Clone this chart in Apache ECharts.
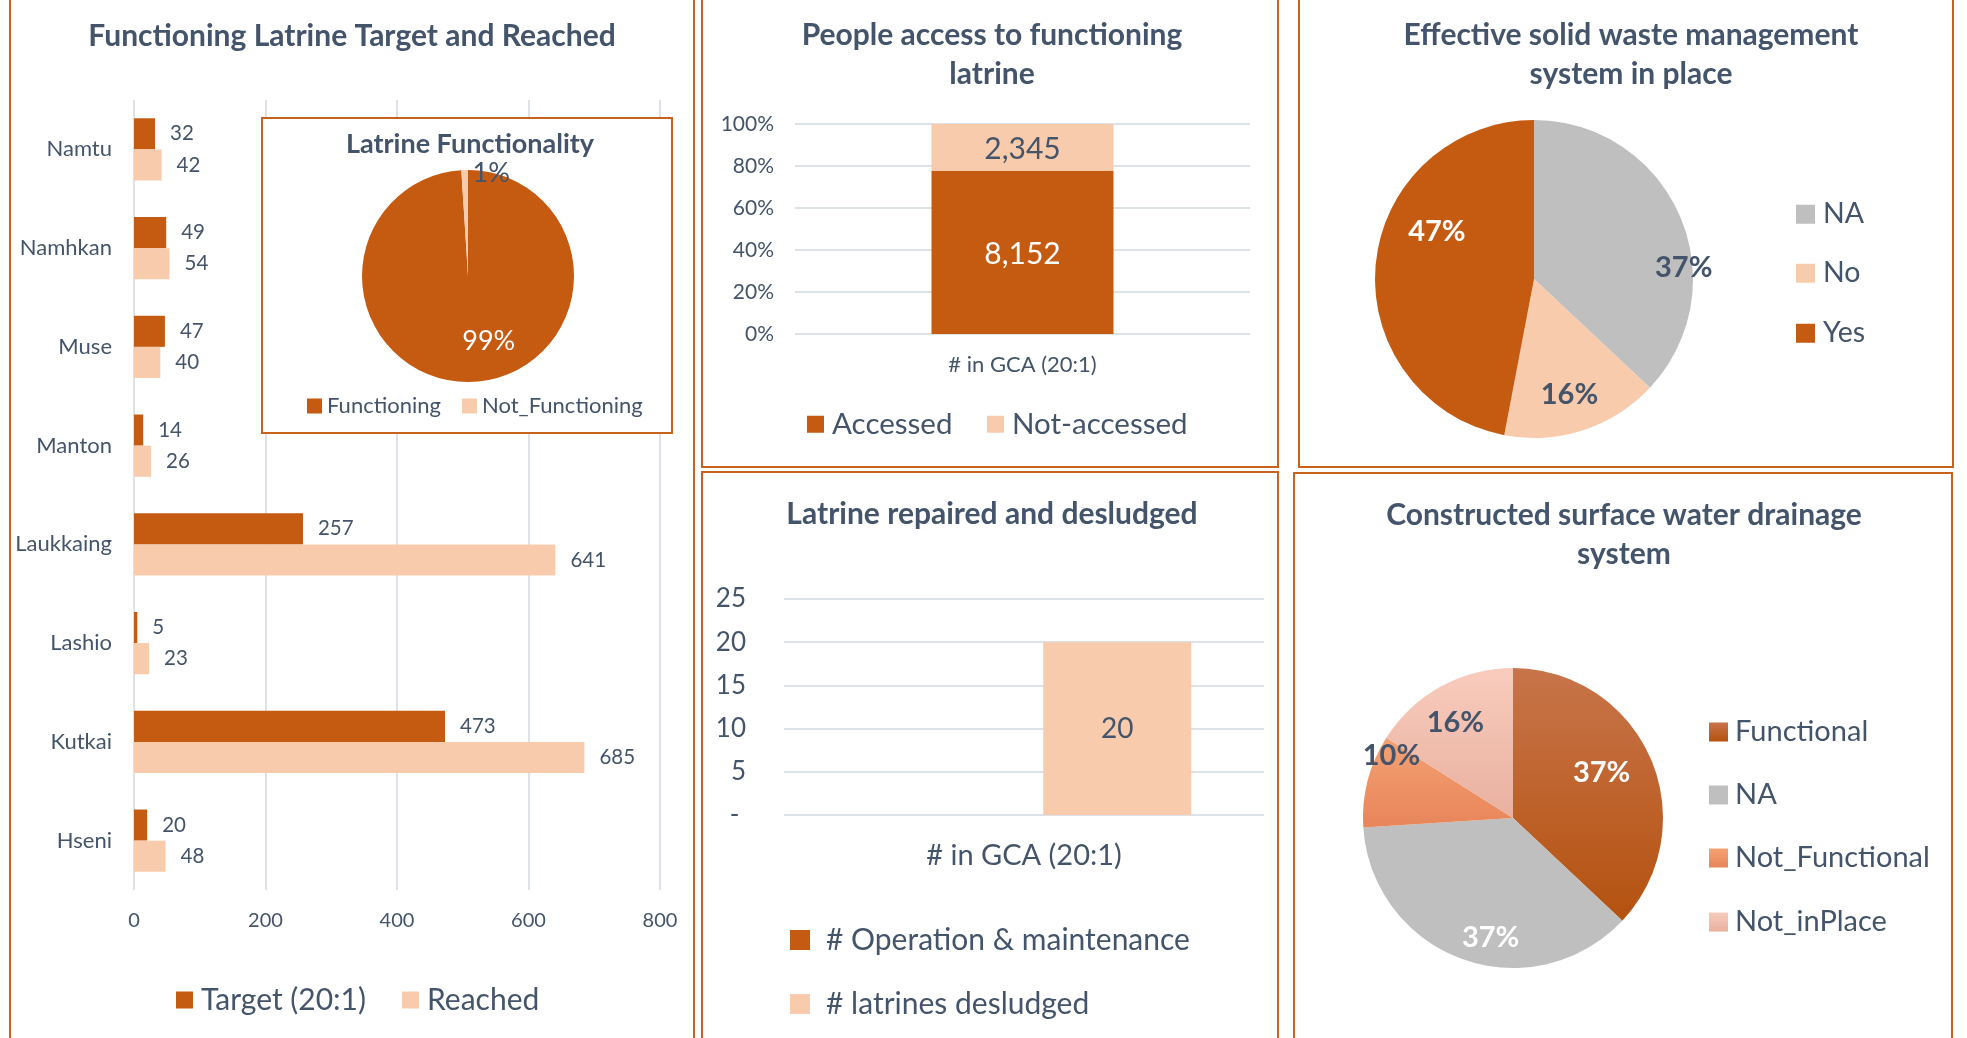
<!DOCTYPE html>
<html>
<head>
<meta charset="utf-8">
<title>Latrine dashboard</title>
<script src="https://cdn.jsdelivr.net/npm/echarts@6.0.0/dist/echarts.min.js"></script>
<style>
  html, body { margin: 0; padding: 0; background: #fff; }
  #chart { width: 1967px; height: 1038px; }
</style>
</head>
<body>
<div id="chart"></div>
<script>
// ---- data ----
var townships = ['Namtu', 'Namhkan', 'Muse', 'Manton', 'Laukkaing', 'Lashio', 'Kutkai', 'Hseni'];
var target = [32, 49, 47, 14, 257, 5, 473, 20];
var reached = [42, 54, 40, 26, 641, 23, 685, 48];
var reachTicks = [0, 200, 400, 600, 800];

var funcNames = ['Functioning', 'Not_Functioning'];
var funcValues = [99, 1];

var gcaCats = ['# in GCA (20:1)'];
var accessed = [8152];
var notAccessed = [2345];
var shareTicks = [0, 20, 40, 60, 80, 100];

var operation = [null];
var desludged = [20];
var repairTicks = [0, 5, 10, 15, 20, 25];

var wasteNames = ['NA', 'No', 'Yes'];
var wasteValues = [37, 16, 47];

var drainNames = ['Functional', 'NA', 'Not_Functional', 'Not_inPlace'];
var drainValues = [37, 37, 10, 16];

// ---- styles ----
var TEXT = '#44546A';
var ORANGE = '#C55A11';
var PEACH = '#F8CBAD';
var GREY = '#BFBFBF';
var GRIDLINE = '#DDE2E8';
var BORDER = '#C8631C';
var FONT = 'Lato, sans-serif';

function grad(top, bottom) {
  return new echarts.graphic.LinearGradient(0, 0, 0, 1, [
    { offset: 0, color: top }, { offset: 1, color: bottom }
  ]);
}
var drainColors = [grad('#C8744A', '#B4520F'), GREY, grad('#F4A274', '#E8855A'), grad('#F8CCBD', '#E9B09F')];

function legendItem(name, left, cy, size, fontSize, gap) {
  return {
    data: [name], left: left, top: cy - fontSize / 2, padding: 0,
    icon: 'rect', itemWidth: size, itemHeight: size, selectedMode: false,
    textStyle: { color: TEXT, fontSize: fontSize, fontFamily: FONT, padding: [0, 0, 0, gap || 0] }
  };
}

function panel(x, y, w, h, z) {
  return { type: 'rect', z: z || 0, shape: { x: x, y: y, width: w, height: h },
    style: { fill: z ? '#fff' : 'none', stroke: BORDER, lineWidth: 2 } };
}

function title(text, x, y, size) {
  return { type: 'text', x: x, y: y, z: 10,
    style: { text: text, fill: TEXT, font: 'bold ' + size + 'px ' + FONT,
      textAlign: 'center', textVerticalAlign: 'middle', lineHeight: 39 } };
}

function pct(a, b) { return a.map(function (v, i) { return v / (v + b[i]) * 100; }); }
var accessedPct = pct(accessed, notAccessed);
var notAccessedPct = pct(notAccessed, accessed);

function pieData(names, values, colors, labelColors) {
  return names.map(function (n, i) {
    return { name: n, value: values[i], itemStyle: { color: colors[i] },
      label: { color: labelColors[i] } };
  });
}

function offsets(list) {
  return function (p) { var o = list[p.dataIndex]; return { dx: o[0], dy: o[1] }; };
}

var chart = echarts.init(document.getElementById('chart'));

var option = {
  animation: false,
  textStyle: { fontFamily: FONT },
  graphic: [
    panel(10, -10, 684, 1060),
    panel(702, -10, 576, 477),
    panel(702, 472, 576, 578),
    panel(1299, -10, 654, 477),
    panel(1294, 473, 658, 577),
    panel(262, 118, 410, 315, 1),
    title('Functioning Latrine Target and Reached', 352, 36, 30),
    title('Latrine Functionality', 470, 144, 27),
    title('People access to functioning\nlatrine', 992, 55, 30),
    title('Latrine repaired and desludged', 992, 514, 30),
    title('Effective solid waste management\nsystem in place', 1631, 55, 30),
    title('Constructed surface water drainage\nsystem', 1624, 535, 30)
  ],
  legend: [
    legendItem('Target (20:1)', 176, 1000, 17, 30, 3),
    legendItem('Reached', 402, 1000, 17, 30, 3),
    legendItem('Functioning', 307, 406, 15, 22, 0),
    legendItem('Not_Functioning', 462, 406, 15, 22, 0),
    legendItem('Accessed', 807, 424, 17, 29.5, 3),
    legendItem('Not-accessed', 987, 424, 17, 29.5, 3),
    legendItem('# Operation & maintenance', 790, 940, 20, 30, 11),
    legendItem('# latrines desludged', 790, 1004, 20, 30, 11),
    legendItem('NA', 1796, 214, 19, 28.5, 3),
    legendItem('No', 1796, 273, 19, 28.5, 3),
    legendItem('Yes', 1796, 333, 19, 28.5, 3),
    legendItem('Functional', 1709, 732, 19, 29, 2),
    legendItem('NA', 1709, 795, 19, 29, 2),
    legendItem('Not_Functional', 1709, 858, 19, 29, 2),
    legendItem('Not_inPlace', 1709, 922, 19, 29, 2)
  ],
  grid: [
    { left: 134, top: 100, width: 526, height: 790, outerBoundsMode: 'none' },
    { left: 795, top: 124, width: 455, height: 210, outerBoundsMode: 'none' },
    { left: 784, top: 599, width: 480, height: 216, outerBoundsMode: 'none' }
  ],
  xAxis: [
    { gridIndex: 0, type: 'value', min: reachTicks[0], max: reachTicks[reachTicks.length - 1],
      interval: reachTicks[1] - reachTicks[0],
      axisLine: { show: false }, axisTick: { show: false },
      splitLine: { show: true, lineStyle: { color: GRIDLINE, width: 2 } },
      axisLabel: { color: TEXT, fontSize: 20, margin: 21 } },
    { gridIndex: 1, type: 'category', data: gcaCats,
      axisLine: { show: false }, axisTick: { show: false },
      axisLabel: { color: TEXT, fontSize: 22, margin: 20 } },
    { gridIndex: 2, type: 'category', data: gcaCats,
      axisLine: { show: false }, axisTick: { show: false },
      axisLabel: { color: TEXT, fontSize: 29, margin: 26 } }
  ],
  yAxis: [
    { gridIndex: 0, type: 'category', data: townships, inverse: true,
      axisLine: { show: false }, axisTick: { show: false },
      axisLabel: { color: TEXT, fontSize: 22, margin: 22 } },
    { gridIndex: 1, type: 'value', min: shareTicks[0], max: shareTicks[shareTicks.length - 1],
      interval: shareTicks[1] - shareTicks[0],
      axisLine: { show: false }, axisTick: { show: false },
      splitLine: { lineStyle: { color: GRIDLINE, width: 2 } },
      axisLabel: { color: TEXT, fontSize: 21, margin: 21, formatter: '{value}%' } },
    { gridIndex: 2, type: 'value', min: repairTicks[0], max: repairTicks[repairTicks.length - 1],
      interval: repairTicks[1] - repairTicks[0],
      axisLine: { show: false }, axisTick: { show: false },
      splitLine: { lineStyle: { color: GRIDLINE, width: 2 } },
      axisLabel: { color: TEXT, fontSize: 26, margin: 38,
        formatter: function (v) { return v === 0 ? '-\u00a0' : v; } } }
  ],
  series: [
    { name: 'Target (20:1)', type: 'bar', xAxisIndex: 0, yAxisIndex: 0, data: target,
      itemStyle: { color: ORANGE }, barGap: '0%', barCategoryGap: '37%',
      label: { show: true, position: 'right', distance: 15, color: TEXT, fontSize: 20.5 } },
    { name: 'Reached', type: 'bar', xAxisIndex: 0, yAxisIndex: 0, data: reached,
      itemStyle: { color: PEACH }, barGap: '0%', barCategoryGap: '37%',
      label: { show: true, position: 'right', distance: 15, color: TEXT, fontSize: 20.5 } },

    { name: 'Accessed', type: 'bar', stack: 'gca', xAxisIndex: 1, yAxisIndex: 1,
      data: accessedPct, barWidth: '40%', itemStyle: { color: ORANGE },
      label: { show: true, position: 'inside', color: '#fff', fontSize: 30, offset: [0, 2],
        formatter: function (p) { return accessed[p.dataIndex].toLocaleString('en-US'); } } },
    { name: 'Not-accessed', type: 'bar', stack: 'gca', xAxisIndex: 1, yAxisIndex: 1,
      data: notAccessedPct, barWidth: '40%', itemStyle: { color: PEACH },
      label: { show: true, position: 'inside', color: TEXT, fontSize: 30, offset: [0, 2],
        formatter: function (p) { return notAccessed[p.dataIndex].toLocaleString('en-US'); } } },

    { name: '# Operation & maintenance', type: 'bar', xAxisIndex: 2, yAxisIndex: 2,
      data: operation, barWidth: 148, barGap: '26%', itemStyle: { color: ORANGE },
      label: { show: false } },
    { name: '# latrines desludged', type: 'bar', xAxisIndex: 2, yAxisIndex: 2,
      data: desludged, barWidth: 148, barGap: '26%', itemStyle: { color: PEACH },
      label: { show: true, position: 'inside', color: TEXT, fontSize: 28 } },

    { name: 'Latrine Functionality', type: 'pie', center: [468, 276], radius: 106,
      startAngle: 90, avoidLabelOverlap: false, z: 3,
      data: pieData(funcNames, funcValues, [ORANGE, PEACH], ['#fff', TEXT]),
      label: { show: true, position: 'inside', fontSize: 27, formatter: '{d}%' },
      labelLine: { show: false }, emphasis: { disabled: true },
      labelLayout: offsets([[19, 9], [25, -47]]) },

    { name: 'Effective solid waste', type: 'pie', center: [1534, 279], radius: 159,
      startAngle: 90, avoidLabelOverlap: false,
      data: pieData(wasteNames, wasteValues, [GREY, PEACH, ORANGE], [TEXT, TEXT, '#fff']),
      label: { show: true, position: 'inside', fontSize: 29, fontWeight: 'bold', formatter: '{d}%' },
      labelLine: { show: false }, emphasis: { disabled: true },
      labelLayout: offsets([[74, 21], [10, 37], [-15, -40]]) },

    { name: 'Surface water drainage', type: 'pie', center: [1513, 818], radius: 150,
      startAngle: 90, avoidLabelOverlap: false,
      data: pieData(drainNames, drainValues, drainColors, ['#fff', '#fff', TEXT, TEXT]),
      label: { show: true, position: 'inside', fontSize: 29, fontWeight: 'bold', formatter: '{d}%' },
      labelLine: { show: false }, emphasis: { disabled: true },
      labelLayout: offsets([[17, -14], [4, 46], [-46, -43], [-20, -27]]) }
  ]
};

chart.setOption(option);
window.onresize = function () { chart.resize(); };
</script>
</body>
</html>
